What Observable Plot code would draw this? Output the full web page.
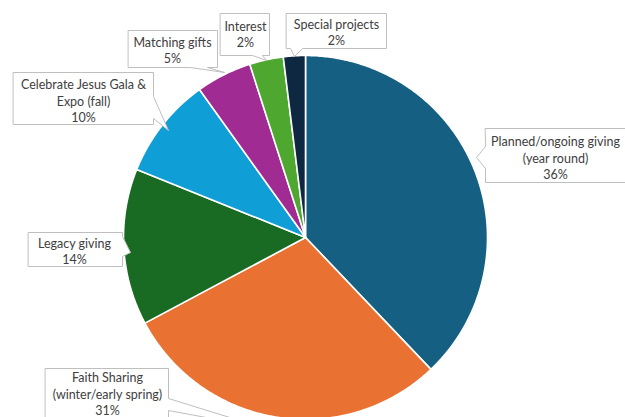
<!DOCTYPE html>
<html><head><meta charset="utf-8">
<script src="https://cdn.jsdelivr.net/npm/d3@7"></script>
<script src="https://cdn.jsdelivr.net/npm/@observablehq/plot@0.6"></script>
<style>body{margin:0;background:#fff;} #chart{width:625px;height:417px;overflow:hidden;}</style>
</head><body><div id="chart"></div>
<script>
// Data
const categories = ["Planned/ongoing giving", "Faith Sharing", "Legacy giving", "Celebrate Jesus Gala & Expo", "Matching gifts", "Interest", "Special projects"];
const labelNames = ["Planned/ongoing giving\n(year round)", "Faith Sharing\n(winter/early spring)", "Legacy giving", "Celebrate Jesus Gala &\nExpo (fall)", "Matching gifts", "Interest", "Special projects"];
const values = [37.9, 29.3, 13.9, 9.0, 4.95, 3.0, 1.95];
const pctLabels = ["36%", "31%", "14%", "10%", "5%", "2%", "2%"];
const colors = ["#156082", "#e97132", "#196b24", "#0f9ed5", "#a02b93", "#4ea72e", "#0e2841"];

// Layout (pixels)
const W = 625, H = 417;
const pie = {cx: 305, cy: 237, r: 182};
const callouts = [
  {box: [485, 128, 640, 182], tx: 555, ty: 157, side: "left", b: [146, 168], tip: [476, 157]},
  {box: [45, 368, 168, 440], tx: 107, ty: 393, side: "right", b: [398, 410], tip: [265, 428]},
  {box: [28, 232, 122, 266], tx: 74, ty: 250, side: "right", b: [236, 256], tip: [130, 252]},
  {box: [13, 72, 153, 124], tx: 83, ty: 100, side: "right", b: [96, 118], tip: [168, 130]},
  {box: [128, 30, 217, 67], tx: 172, ty: 49, side: "bottom", b: [190, 207], tip: [224, 72]},
  {box: [220, 13, 269, 55], tx: 245, ty: 33, side: "bottom", b: [252, 262], tip: [266, 60]},
  {box: [286, 13, 386, 48], tx: 336, ty: 31, side: "bottom", b: [290, 302], tip: [294, 56]}
];

// Slice polygons from data via d3.pie
const arcs = d3.pie().sort(null).value(d => d)(values);
const slicePts = [];
arcs.forEach((a, i) => {
  slicePts.push({cat: categories[i], x: pie.cx, y: pie.cy});
  const n = Math.max(2, Math.ceil((a.endAngle - a.startAngle) / 0.01));
  for (let k = 0; k <= n; k++) {
    const t = a.startAngle + (a.endAngle - a.startAngle) * k / n;
    slicePts.push({cat: categories[i], x: pie.cx + pie.r * Math.sin(t), y: pie.cy - pie.r * Math.cos(t)});
  }
});

// Callout polygons
const calloutPts = [];
callouts.forEach((c, i) => {
  const [x1, y1, x2, y2] = c.box, [b0, b1] = c.b, [tx, ty] = c.tip;
  const pts = [[x1, y1], [x2, y1]];
  if (c.side === "right") pts.push([x2, b0], [tx, ty], [x2, b1]);
  pts.push([x2, y2]);
  if (c.side === "bottom") pts.push([b1, y2], [tx, ty], [b0, y2]);
  pts.push([x1, y2]);
  if (c.side === "left") pts.push([x1, b1], [tx, ty], [x1, b0]);
  pts.forEach(([x, y]) => calloutPts.push({id: i, x, y}));
});

const texts = callouts.map((c, i) => ({x: c.tx, y: c.ty, text: labelNames[i] + "\n" + pctLabels[i]}));

const chart = Plot.plot({
  width: W, height: H,
  margin: 0,
  x: {domain: [0, W], range: [0, W], axis: null},
  y: {domain: [0, H], range: [0, H], axis: null},
  color: {domain: categories, range: colors},
  style: {background: "#fff"},
  marks: [
    Plot.line(slicePts, {x: "x", y: "y", z: "cat", fill: "cat", stroke: "#ffffff", strokeWidth: 1.6, curve: "linear-closed", strokeLinejoin: "round"}),
    Plot.line(calloutPts, {x: "x", y: "y", z: "id", fill: "#ffffff", stroke: "#bfbfbf", strokeWidth: 1, curve: "linear-closed"}),
    Plot.text(texts, {x: "x", y: "y", text: "text", fill: "#404040", fontSize: 12.5, lineHeight: 1.32, textAnchor: "middle", lineAnchor: "middle", fontFamily: "Lato, 'Open Sans', sans-serif"})
  ]
});
document.getElementById("chart").appendChild(chart);
</script>
</body></html>
